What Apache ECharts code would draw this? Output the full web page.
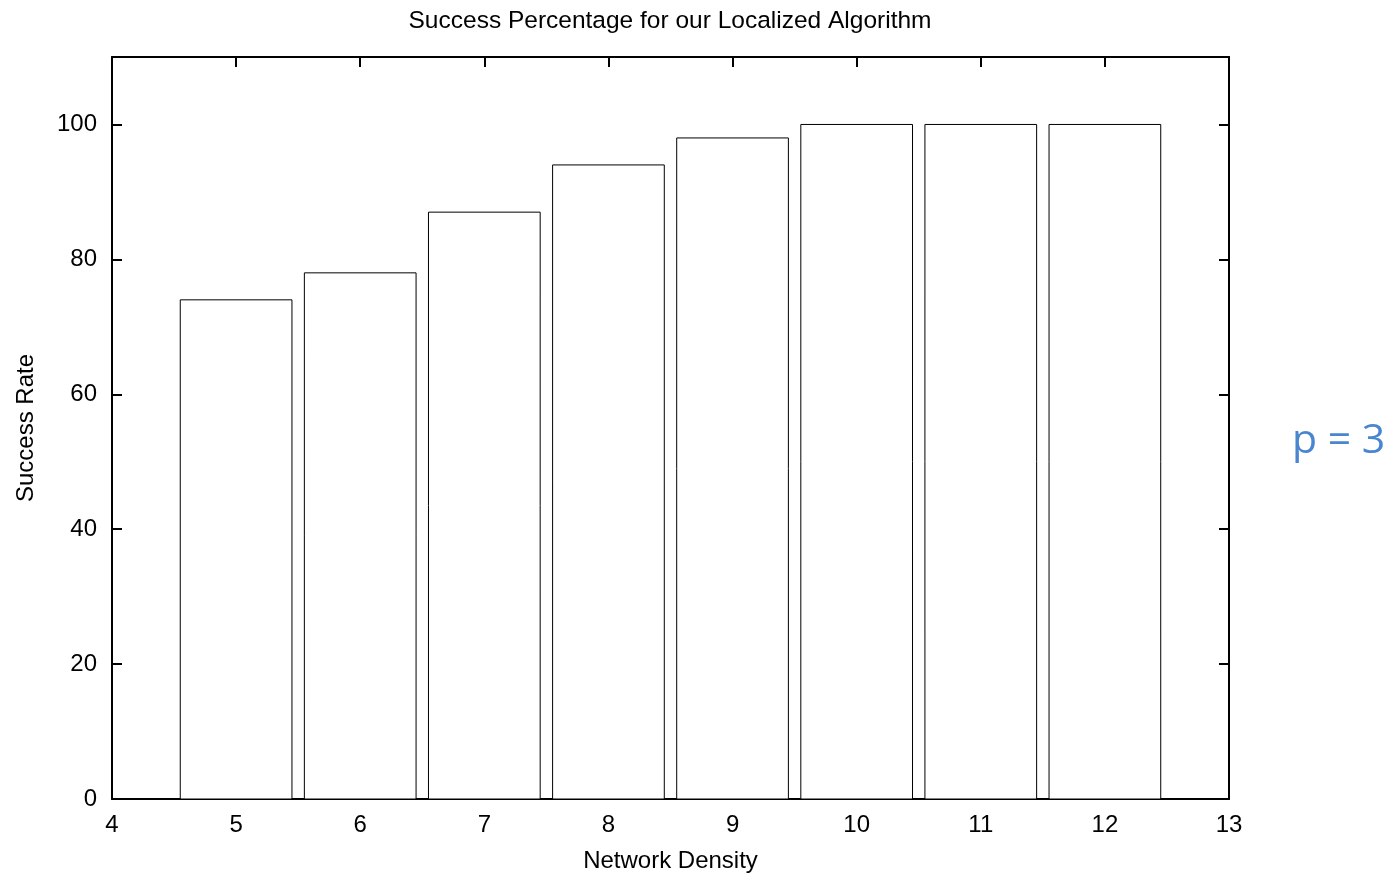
<!DOCTYPE html>
<html><head><meta charset="utf-8">
<script src="https://cdn.jsdelivr.net/npm/echarts@6/dist/echarts.min.js"></script>
<style>html,body{margin:0;padding:0;background:#fff}#c{width:1392px;height:873px}</style>
</head><body><div id="c"></div>
<script>
const densities = [5, 6, 7, 8, 9, 10, 11, 12];
const successRates = [74, 78, 87, 94, 98, 100, 100, 100];
const xTicks = [4, 5, 6, 7, 8, 9, 10, 11, 12, 13];
const xInnerTicks = [5, 6, 7, 8, 9, 10, 11, 12];
const yTicks = [0, 20, 40, 60, 80, 100];
const barWidthUnits = 0.9;

const chart = echarts.init(document.getElementById('c'));
const font = '"Liberation Sans", Arial, sans-serif';
const lineStyle = {color: '#000', width: 2};
const tick = vals => ({show: true, inside: true, length: 10, customValues: vals, lineStyle: {color: '#000', width: 2}});
chart.setOption({
  animation: false,
  title: {text: 'Success Percentage for our Localized Algorithm', left: 665, textAlign: 'center', top: 4,
    textStyle: {fontFamily: font, fontSize: 24.5, fontWeight: 'normal', color: '#000'}},
  grid: {left: 112, right: 163, top: 57, bottom: 74, outerBoundsMode: 'none'},
  graphic: [{type: 'text', left: 1292, top: 421, style: {text: 'p = 3', font: '41px "Open Sans", sans-serif', fill: '#4a86d0'}}],
  xAxis: [
    {type: 'value', min: 4, max: 13, interval: 1, position: 'bottom',
     name: 'Network Density', nameLocation: 'middle', nameGap: 50,
     nameTextStyle: {fontFamily: font, fontSize: 24, color: '#000'},
     axisLine: {show: true, onZero: false, lineStyle}, axisTick: tick(xInnerTicks), splitLine: {show: false},
     axisLabel: {fontFamily: font, fontSize: 24, color: '#000', margin: 14, customValues: xTicks}},
    {type: 'value', min: 4, max: 13, interval: 1, position: 'top',
     axisLine: {show: true, onZero: false, lineStyle}, axisTick: tick(xInnerTicks), splitLine: {show: false},
     axisLabel: {show: false}}
  ],
  yAxis: [
    {type: 'value', min: 0, max: 110, interval: 20, position: 'left',
     name: 'Success Rate', nameLocation: 'middle', nameGap: 74, nameRotate: 90,
     nameTextStyle: {fontFamily: font, fontSize: 24, color: '#000'},
     axisLine: {show: true, onZero: false, lineStyle}, axisTick: tick(yTicks.slice(1)), splitLine: {show: false},
     axisLabel: {fontFamily: font, fontSize: 24, color: '#000', margin: 15, customValues: yTicks}},
    {type: 'value', min: 0, max: 110, interval: 20, position: 'right',
     axisLine: {show: true, onZero: false, lineStyle}, axisTick: tick(yTicks.slice(1)), splitLine: {show: false},
     axisLabel: {show: false}}
  ],
  series: [{
    type: 'custom',
    xAxisIndex: 0, yAxisIndex: 0,
    data: densities.map((d, i) => [d, successRates[i]]),
    renderItem: function (params, api) {
      const x = api.value(0), y = api.value(1);
      const tl = api.coord([x - barWidthUnits / 2, y]);
      const br = api.coord([x + barWidthUnits / 2, 0]);
      return {type: 'rect', shape: {x: tl[0], y: tl[1], width: br[0] - tl[0], height: br[1] - tl[1]},
        style: {fill: '#fff', stroke: '#000', lineWidth: 1}};
    }
  }]
});
</script></body></html>
